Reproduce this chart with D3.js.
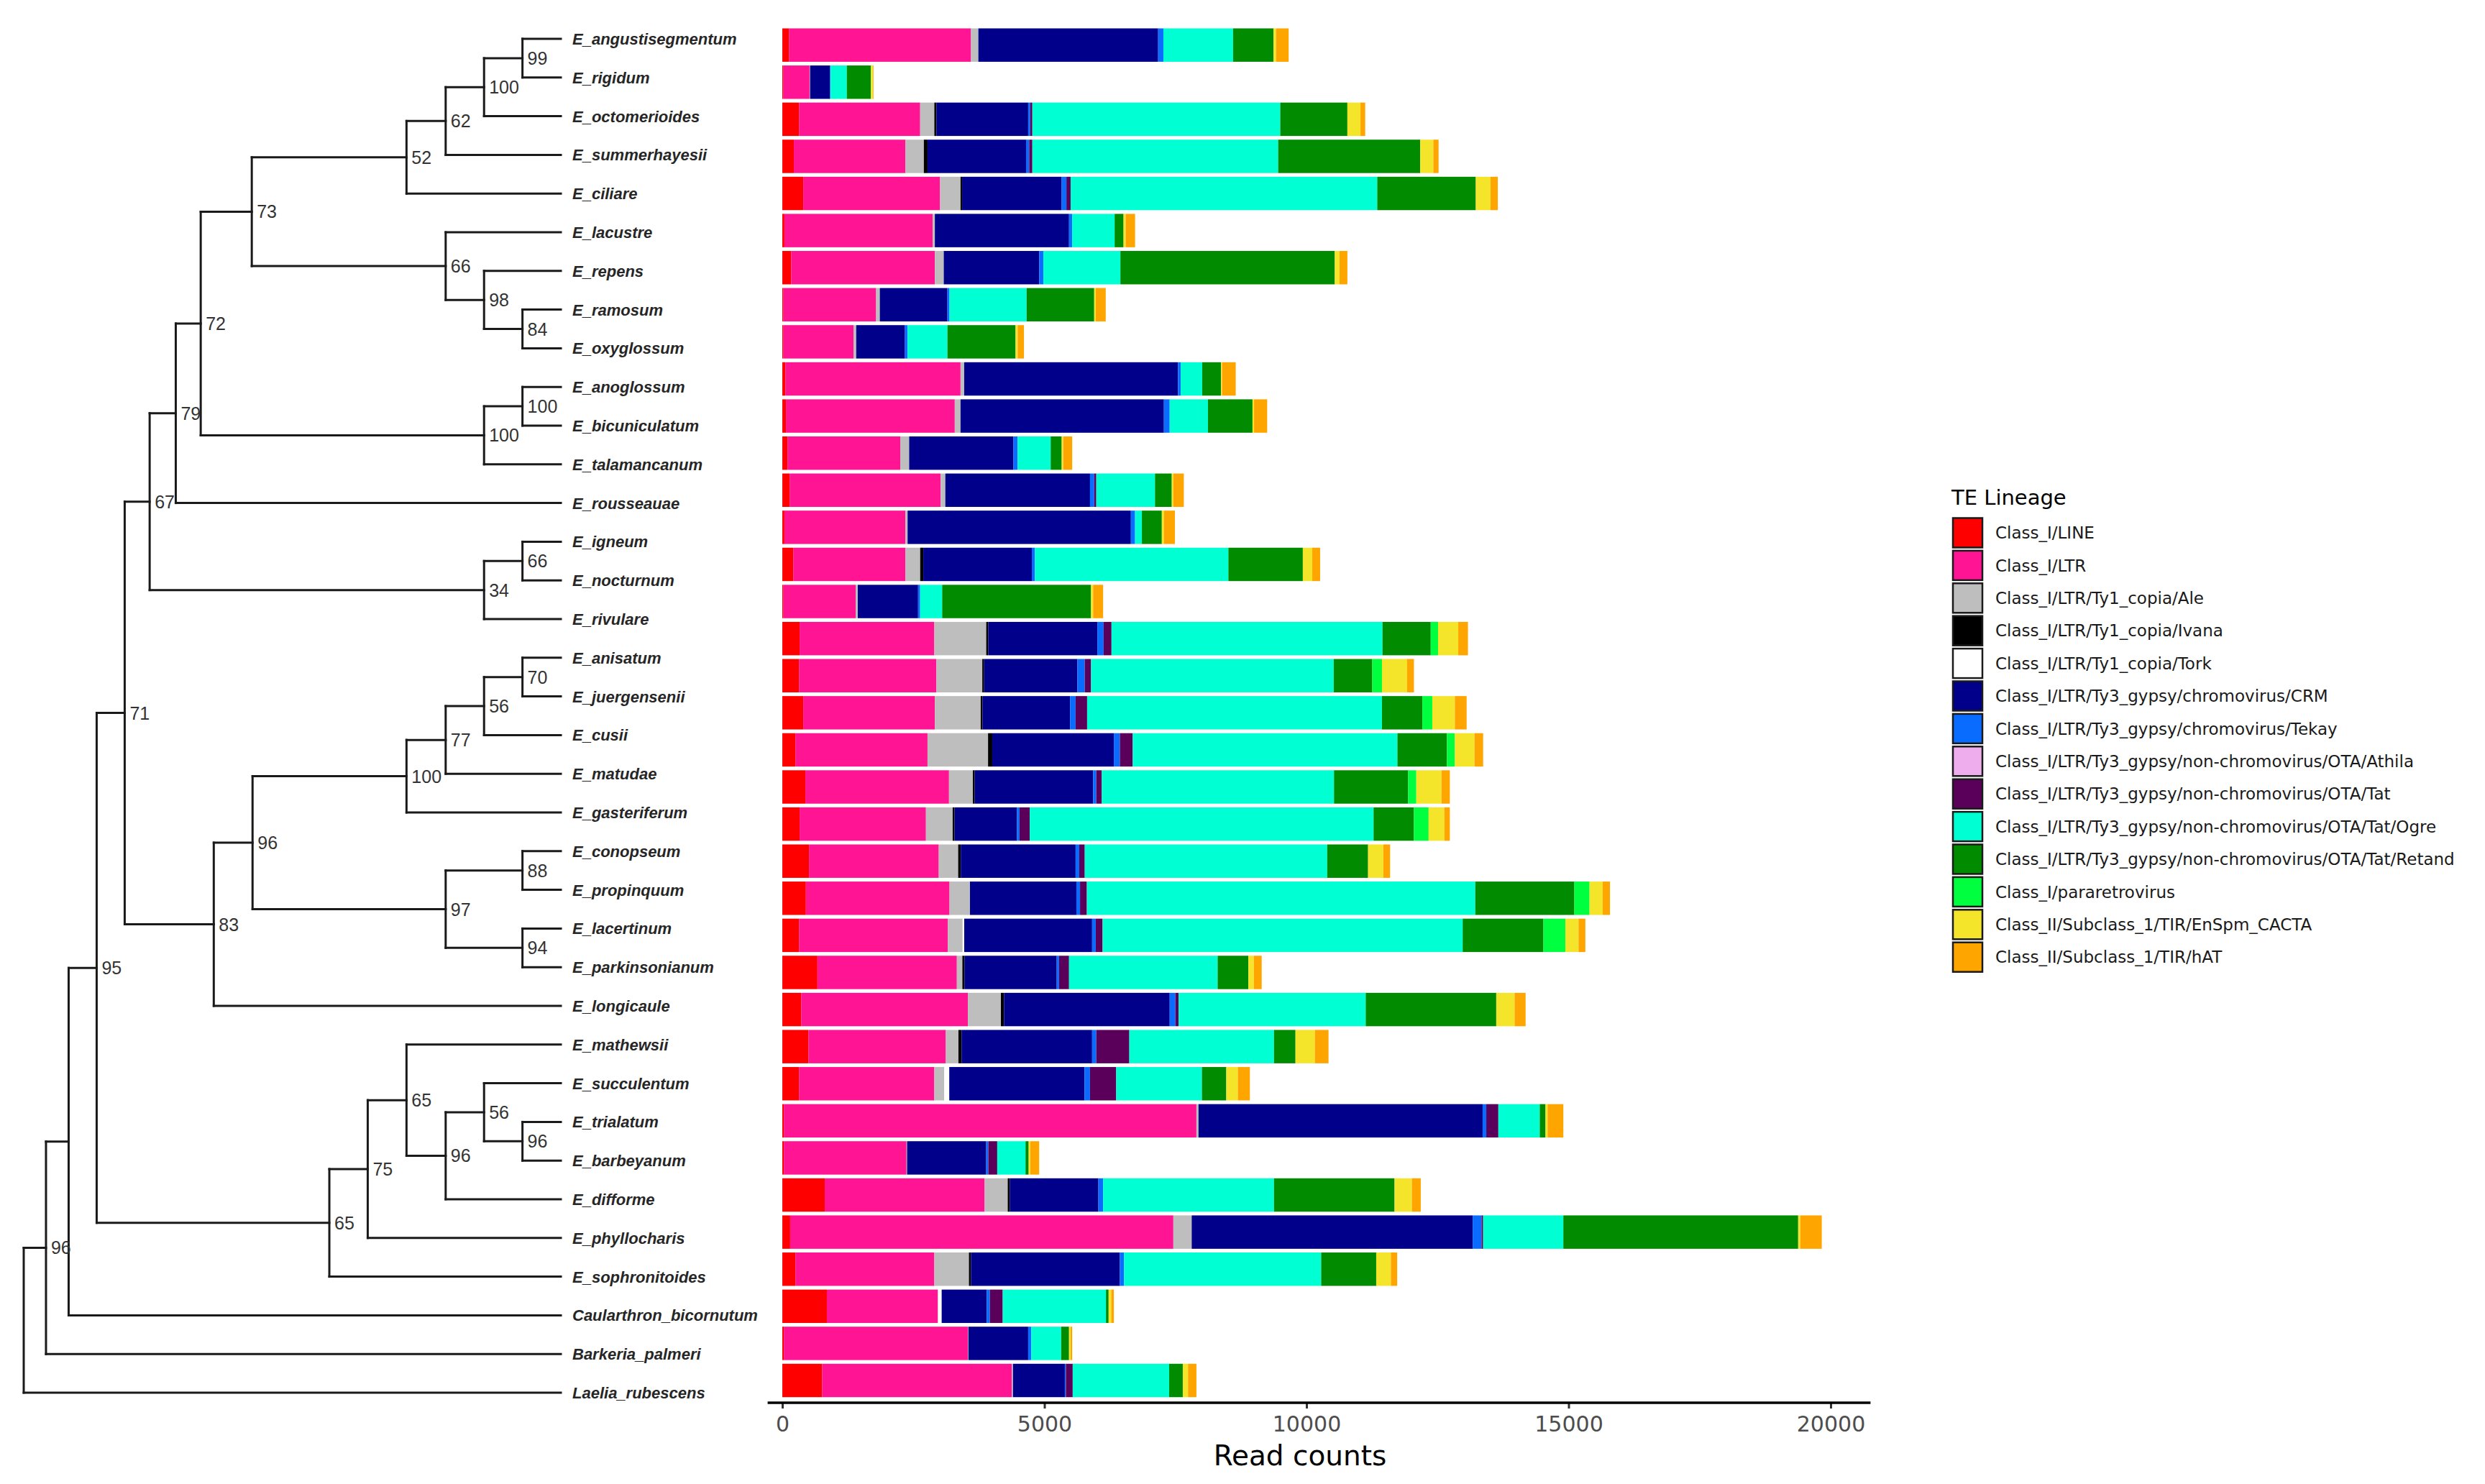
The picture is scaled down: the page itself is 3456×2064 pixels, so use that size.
<!DOCTYPE html>
<html>
<head>
<meta charset="utf-8">
<script src="https://cdn.jsdelivr.net/npm/d3@7"></script>
<style>
html,body{margin:0;padding:0;background:#fff;}
svg{display:block;}
</style>
</head>
<body>
<svg id="chart" width="3456" height="2064"></svg>
<script>
// ---------------- DATA ----------------
const lineages = [
  "Class_I/LINE","Class_I/LTR","Class_I/LTR/Ty1_copia/Ale","Class_I/LTR/Ty1_copia/Ivana",
  "Class_I/LTR/Ty1_copia/Tork","Class_I/LTR/Ty3_gypsy/chromovirus/CRM","Class_I/LTR/Ty3_gypsy/chromovirus/Tekay",
  "Class_I/LTR/Ty3_gypsy/non-chromovirus/OTA/Athila","Class_I/LTR/Ty3_gypsy/non-chromovirus/OTA/Tat",
  "Class_I/LTR/Ty3_gypsy/non-chromovirus/OTA/Tat/Ogre","Class_I/LTR/Ty3_gypsy/non-chromovirus/OTA/Tat/Retand",
  "Class_I/pararetrovirus","Class_II/Subclass_1/TIR/EnSpm_CACTA","Class_II/Subclass_1/TIR/hAT"
];
const lineageColors = ["#FF0000","#FF1493","#BEBEBE","#000000","#FFFFFF","#00008B","#0A6CFF",
  "#EEAEEE","#5A005A","#00FFD2","#008B00","#00FF3F","#F5E52A","#FFA500"];

// bar rows, top to bottom (37 bars in the reference)
const barRows = ["E_angustisegmentum","E_rigidum","E_octomerioides","E_summerhayesii","E_ciliare",
  "E_lacustre","E_repens","E_ramosum","E_oxyglossum","E_anoglossum","E_bicuniculatum","E_talamancanum",
  "E_rousseauae","E_igneum","E_nocturnum","E_rivulare","E_anisatum","E_juergensenii","E_cusii",
  "unlabelled_bar","E_matudae","E_gasteriferum","E_conopseum","E_propinquum","E_lacertinum",
  "E_parkinsonianum","E_longicaule","E_mathewsii","E_succulentum","E_trialatum","E_barbeyanum",
  "E_difforme","E_phyllocharis","E_sophronitoides","Caularthron_bicornutum","Barkeria_palmeri","Laelia_rubescens"];

// read counts per lineage (one value per bar row)
const LINE    = [130,20,320,220,400,40,170,20,20,60,70,100,140,40,210,20,330,320,400,250,440,330,510,450,320,670,360,500,320,30,30,810,150,250,850,30,760];
const LTR     = [3470,500,2310,2130,2610,2830,2740,1770,1340,3340,3220,2150,2880,2310,2140,1380,2570,2620,2510,2520,2740,2410,2475,2740,2840,2660,3180,2620,2580,7870,2340,3050,7310,2650,2120,3510,3620];
const Ale     = [140,10,270,350,390,40,170,70,50,70,110,170,90,40,280,40,990,875,875,1155,455,510,370,390,280,105,630,240,190,40,10,440,350,660,0,10,20];
const Ivana   = [0,0,40,70,30,0,0,0,0,0,0,0,0,0,60,0,40,35,35,80,35,35,50,0,0,40,60,60,0,0,0,40,0,40,0,0,0];
const Tork    = [0,0,0,0,0,0,0,0,0,0,0,0,0,0,0,0,0,0,0,0,0,0,0,0,30,0,0,0,95,0,0,0,0,0,70,0,0];
const CRM     = [3430,380,1750,1880,1900,2560,1820,1290,930,4080,3880,1990,2760,4260,2070,1150,2080,1780,1670,2320,2260,1190,2190,2030,2440,1760,3160,2490,2580,5420,1510,1690,5360,2840,860,1140,990];
const Tekay   = [100,10,40,60,90,60,80,40,50,50,110,80,80,80,60,40,120,140,105,115,60,50,70,70,70,45,110,80,105,70,40,90,170,80,60,60,20];
const Athila  = [0,0,0,0,0,0,0,0,0,0,0,0,0,0,0,0,0,0,0,0,0,0,0,0,0,0,0,0,0,0,0,0,0,0,0,0,0];
const Tat     = [0,0,40,60,80,0,0,0,0,0,0,0,40,0,0,0,150,120,220,245,105,195,105,130,130,190,60,630,500,230,170,0,30,0,245,0,130];
const Ogre    = [1330,310,4730,4690,5850,810,1470,1470,760,410,730,630,1120,130,3690,420,5170,4630,5625,5050,4430,6560,4625,7410,6870,2835,3570,2760,1635,790,540,3260,1530,3760,1970,570,1840];
const Retand  = [770,460,1280,2710,1880,170,4090,1290,1300,360,850,210,320,380,1420,2840,920,735,770,945,1415,770,780,1890,1540,585,2490,410,465,110,60,2300,4480,1050,50,150,260];
const Pararetro = [0,0,0,0,0,0,0,0,0,0,0,0,0,0,0,0,140,185,190,150,155,280,0,290,420,0,0,0,0,0,0,0,0,0,0,0,0];
const CACTA   = [50,40,250,250,280,40,90,30,40,20,30,30,30,40,180,40,385,480,430,375,480,300,290,250,250,105,350,370,220,40,30,330,40,280,50,30,100];
const hAT     = [240,10,90,100,140,180,150,190,120,260,250,170,200,210,150,190,185,130,225,165,160,105,130,140,130,150,210,260,230,300,170,170,410,120,50,30,160];
const seriesValues = [LINE,LTR,Ale,Ivana,Tork,CRM,Tekay,Athila,Tat,Ogre,Retand,Pararetro,CACTA,hAT];

const xTicks = [0,5000,10000,15000,20000];
const xLimits = [-280,20760];     // extent of the drawn x-axis line
const xTitle = "Read counts";
const legendTitle = "TE Lineage";

// tree: tips top to bottom
const tipLabels = ["E_angustisegmentum","E_rigidum","E_octomerioides","E_summerhayesii","E_ciliare",
  "E_lacustre","E_repens","E_ramosum","E_oxyglossum","E_anoglossum","E_bicuniculatum","E_talamancanum",
  "E_rousseauae","E_igneum","E_nocturnum","E_rivulare","E_anisatum","E_juergensenii","E_cusii",
  "E_matudae","E_gasteriferum","E_conopseum","E_propinquum","E_lacertinum","E_parkinsonianum",
  "E_longicaule","E_mathewsii","E_succulentum","E_trialatum","E_barbeyanum","E_difforme",
  "E_phyllocharis","E_sophronitoides","Caularthron_bicornutum","Barkeria_palmeri","Laelia_rubescens"];
const tipDepth = 13.99;
// internal nodes
const nodeIds      = ["root","nB","nC","n95","n71","n67","n79","n72","n73","n52","n62","n100a","n99","n66a","n98","n84","n100b","n100c","n34","n66b","n83","n96a","n100d","n77","n56a","n70","n97","n88","n94","n65a","n75","n65b","n96b","n56b","n96c"];
const nodeChildren = [["nB","Laelia_rubescens"],["nC","Barkeria_palmeri"],["n95","Caularthron_bicornutum"],["n71","n65a"],["n67","n83"],["n79","n34"],["n72","E_rousseauae"],["n73","n100b"],["n52","n66a"],["n62","E_ciliare"],["n100a","E_summerhayesii"],["n99","E_octomerioides"],["E_angustisegmentum","E_rigidum"],["E_lacustre","n98"],["E_repens","n84"],["E_ramosum","E_oxyglossum"],["n100c","E_talamancanum"],["E_anoglossum","E_bicuniculatum"],["n66b","E_rivulare"],["E_igneum","E_nocturnum"],["n96a","E_longicaule"],["n100d","n97"],["n77","E_gasteriferum"],["n56a","E_matudae"],["n70","E_cusii"],["E_anisatum","E_juergensenii"],["n88","n94"],["E_conopseum","E_propinquum"],["E_lacertinum","E_parkinsonianum"],["n75","E_sophronitoides"],["n65b","E_phyllocharis"],["E_mathewsii","n96b"],["n56b","E_difforme"],["E_succulentum","n96c"],["E_trialatum","E_barbeyanum"]];
const nodeDepths   = [0,0.58,1.17,1.90,2.63,3.28,3.96,4.61,5.94,9.97,10.99,11.99,12.99,10.99,11.99,12.99,11.99,12.99,11.99,12.99,4.95,5.96,9.97,10.99,11.99,12.99,10.99,12.99,12.99,7.96,8.96,9.97,10.99,11.99,12.99];
const nodeSupport  = ["","96","","95","71","67","79","72","73","52","62","100","99","66","98","84","100","100","34","66","83","96","100","77","56","70","97","88","94","65","75","65","96","56","96"];

// ---------------- DRAW ----------------
const svg = d3.select("#chart");
svg.append("rect").attr("width",3456).attr("height",2064).attr("fill","#fff");

// ---- bars ----
const x = d3.scaleLinear().domain([0,20000]).range([1088,2546]);
const y = d3.scaleBand().domain(barRows).range([36.9,1945.8]).paddingInner(0.1).paddingOuter(0.05);
const table = barRows.map((r,i)=>{const o={row:r}; lineages.forEach((l,j)=>{o[l]=seriesValues[j][i];}); return o;});
const stacked = d3.stack().keys(lineages)(table);
const color = d3.scaleOrdinal().domain(lineages).range(lineageColors);

svg.append("g").selectAll("g").data(stacked).join("g")
  .attr("fill",d=>color(d.key))
  .selectAll("rect").data(d=>d).join("rect")
  .attr("x",d=>x(d[0]))
  .attr("width",d=>Math.max(0,x(d[1])-x(d[0])))
  .attr("y",d=>y(d.data.row))
  .attr("height",y.bandwidth());

// ---- x axis ----
const axisY = 1951;
const axG = svg.append("g").attr("transform",`translate(0,${axisY})`)
  .call(d3.axisBottom(x).tickValues(xTicks).tickSize(8).tickPadding(11).tickFormat(d=>String(d)));
axG.select(".domain").remove();
axG.append("line").attr("x1",x(xLimits[0])).attr("x2",x(xLimits[1])).attr("y1",0).attr("y2",0)
  .attr("stroke","#000").attr("stroke-width",3.5);
axG.selectAll(".tick line").attr("stroke","#333").attr("stroke-width",3);
axG.selectAll(".tick text").attr("fill","#4d4d4d").attr("font-family","DejaVu Sans").attr("font-size",30);
svg.append("text").attr("x",1808).attr("y",2038).attr("text-anchor","middle")
  .attr("font-family","DejaVu Sans").attr("font-size",39).attr("fill","#000").text(xTitle);

// ---- tree ----
const tx = d3.scaleLinear().domain([0,tipDepth]).range([33,780]);
const ty = d3.scalePoint().domain(tipLabels).range([54,1937]);
const nodeMap = {};
tipLabels.forEach(t=>{nodeMap[t]={id:t,depth:tipDepth,children:null,support:""};});
nodeIds.forEach((id,i)=>{nodeMap[id]={id:id,depth:nodeDepths[i],support:nodeSupport[i],childIds:nodeChildren[i]};});
nodeIds.forEach(id=>{nodeMap[id].children=nodeMap[id].childIds.map(c=>nodeMap[c]);});
const rootH = d3.hierarchy(nodeMap["root"], d=>d.children);
rootH.eachAfter(n=>{
  if(!n.children) n.yy = ty(n.data.id);
  else n.yy = d3.mean(n.children, c=>c.yy);
});
const treeG = svg.append("g").attr("fill","none").attr("stroke","#1a1a1a").attr("stroke-width",3).attr("stroke-linecap","square");
rootH.each(n=>{
  if(n.children){
    const ys = n.children.map(c=>c.yy);
    treeG.append("line").attr("x1",tx(n.data.depth)).attr("x2",tx(n.data.depth))
      .attr("y1",d3.min(ys)).attr("y2",d3.max(ys));
  }
  if(n.parent){
    treeG.append("line").attr("x1",tx(n.parent.data.depth)).attr("x2",tx(n.data.depth))
      .attr("y1",n.yy).attr("y2",n.yy);
  }
});
// support labels
svg.append("g").selectAll("text").data(rootH.descendants().filter(n=>n.children && n.data.support))
  .join("text")
  .attr("x",n=>tx(n.data.depth)+7).attr("y",n=>n.yy).attr("dy","0.36em")
  .attr("font-family","Liberation Sans, Arial").attr("font-size",25).attr("fill","#333")
  .text(n=>n.data.support);
// tip labels
svg.append("g").selectAll("text").data(tipLabels).join("text")
  .attr("x",tx(tipDepth)+16).attr("y",d=>ty(d)).attr("dy","0.36em")
  .attr("font-family","Liberation Sans, Arial").attr("font-size",22).attr("font-style","italic")
  .attr("font-weight","bold").attr("fill","#262626")
  .text(d=>d);

// ---- legend ----
const legG = svg.append("g");
legG.append("text").attr("x",2714).attr("y",692).attr("dy","0.36em")
  .attr("font-family","DejaVu Sans").attr("font-size",29).attr("fill","#000").text(legendTitle);
const ly = d3.scaleBand().domain(lineages).range([719,719+45.4*lineages.length]);
const items = legG.selectAll("g.item").data(lineages).join("g").attr("class","item");
items.append("rect").attr("x",2716).attr("y",d=>ly(d)+1.5).attr("width",41).attr("height",41)
  .attr("fill",d=>color(d)).attr("stroke","#1a1a1a").attr("stroke-width",2.5);
items.append("text").attr("x",2775).attr("y",d=>ly(d)+22).attr("dy","0.36em")
  .attr("font-family","DejaVu Sans").attr("font-size",23).attr("fill","#1a1a1a").text(d=>d);
</script>
</body>
</html>
